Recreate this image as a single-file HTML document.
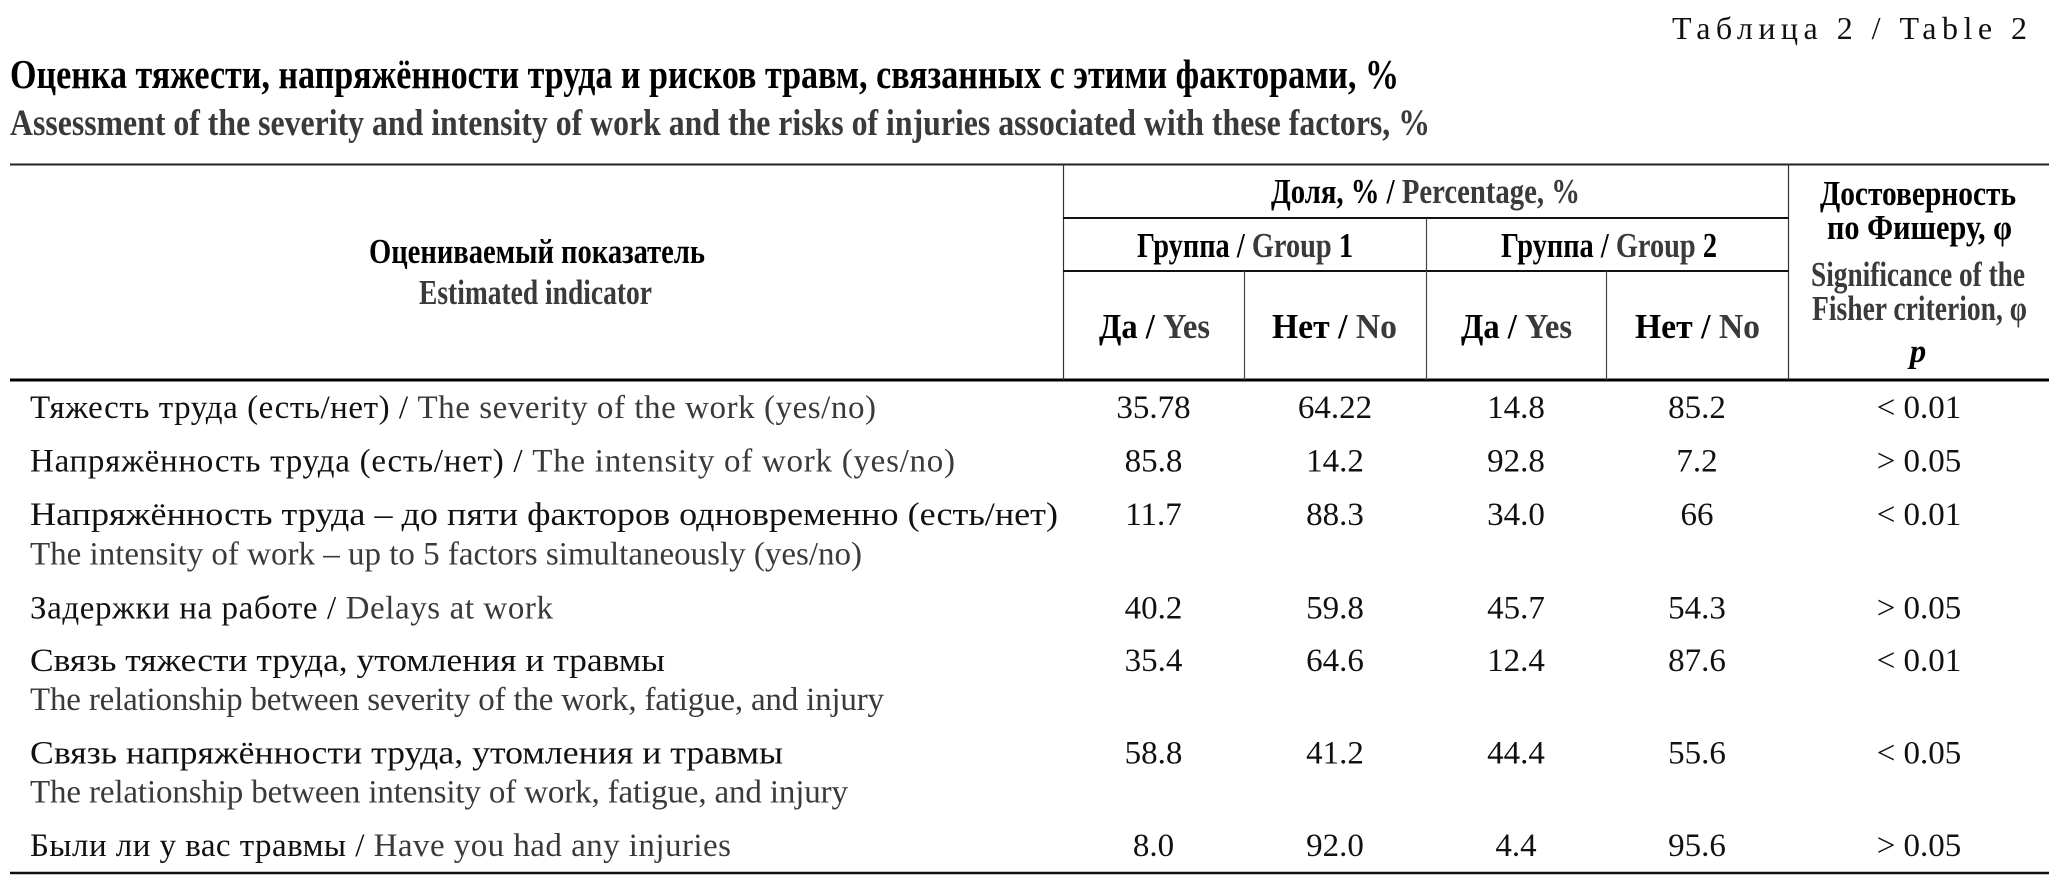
<!DOCTYPE html>
<html>
<head>
<meta charset="utf-8">
<style>
  html, body { margin:0; padding:0; background:#fff; }
  svg { display:block; }
  text { font-family: "Liberation Serif", "Noto Serif CJK SC", serif; }
  .g { fill:#3a3a3a; }
  .b { font-weight:bold; }
</style>
</head>
<body>
<svg width="2059" height="882" viewBox="0 0 2059 882" xmlns="http://www.w3.org/2000/svg">
  <rect width="2059" height="882" fill="#fff"/>

  <!-- Table number -->
  <text x="1672" y="39" font-size="32" fill="#111" textLength="355" lengthAdjust="spacing">Таблица 2 / Table 2</text>

  <!-- Titles -->
  <text x="10" y="88" font-size="41" class="b" fill="#000" textLength="1389" lengthAdjust="spacingAndGlyphs">Оценка тяжести, напряжённости труда и рисков травм, связанных с этими факторами, %</text>
  <text x="10" y="135" font-size="37" class="b g" textLength="1420" lengthAdjust="spacingAndGlyphs">Assessment of the severity and intensity of work and the risks of injuries associated with these factors, %</text>

  <!-- Rules -->
  <line x1="10" y1="164.5" x2="2049" y2="164.5" stroke="#222" stroke-width="2"/>
  <line x1="10" y1="380" x2="2049" y2="380" stroke="#000" stroke-width="3"/>
  <line x1="10" y1="873" x2="2049" y2="873" stroke="#111" stroke-width="2.5"/>

  <!-- Header grid -->
  <line x1="1063.5" y1="164" x2="1063.5" y2="380" stroke="#333" stroke-width="1.2"/>
  <line x1="1788.5" y1="164" x2="1788.5" y2="380" stroke="#333" stroke-width="1.2"/>
  <line x1="1063" y1="218" x2="1789" y2="218" stroke="#111" stroke-width="2"/>
  <line x1="1063" y1="271" x2="1789" y2="271" stroke="#111" stroke-width="2"/>
  <line x1="1426.5" y1="218" x2="1426.5" y2="380" stroke="#444" stroke-width="1.2"/>
  <line x1="1244.5" y1="271" x2="1244.5" y2="380" stroke="#444" stroke-width="1.2"/>
  <line x1="1606.5" y1="271" x2="1606.5" y2="380" stroke="#444" stroke-width="1.2"/>

  <!-- Header text -->
  <text x="369" y="263" font-size="35" class="b" fill="#000" textLength="336" lengthAdjust="spacingAndGlyphs">Оцениваемый показатель</text>
  <text x="419" y="304" font-size="35" class="b g" textLength="233" lengthAdjust="spacingAndGlyphs">Estimated indicator</text>

  <text x="1271" y="203" font-size="35" class="b" fill="#000" textLength="309" lengthAdjust="spacingAndGlyphs">Доля, % / <tspan class="g">Percentage, %</tspan></text>

  <text x="1137" y="257" font-size="35" class="b" fill="#000" textLength="216" lengthAdjust="spacingAndGlyphs">Группа / <tspan class="g">Group </tspan>1</text>
  <text x="1501" y="257" font-size="35" class="b" fill="#000" textLength="216" lengthAdjust="spacingAndGlyphs">Группа / <tspan class="g">Group </tspan>2</text>

  <text x="1099" y="338" font-size="35" class="b" fill="#000" textLength="111" lengthAdjust="spacingAndGlyphs">Да / <tspan class="g">Yes</tspan></text>
  <text x="1272" y="338" font-size="35" class="b" fill="#000" textLength="125" lengthAdjust="spacingAndGlyphs">Нет / <tspan class="g">No</tspan></text>
  <text x="1461" y="338" font-size="35" class="b" fill="#000" textLength="111" lengthAdjust="spacingAndGlyphs">Да / <tspan class="g">Yes</tspan></text>
  <text x="1635" y="338" font-size="35" class="b" fill="#000" textLength="125" lengthAdjust="spacingAndGlyphs">Нет / <tspan class="g">No</tspan></text>

  <text x="1820" y="205" font-size="35" class="b" fill="#000" textLength="196" lengthAdjust="spacingAndGlyphs">Достоверность</text>
  <text x="1827" y="239" font-size="35" class="b" fill="#000" textLength="185" lengthAdjust="spacingAndGlyphs">по Фишеру, φ</text>
  <text x="1811" y="286" font-size="35" class="b g" textLength="214" lengthAdjust="spacingAndGlyphs">Significance of the</text>
  <text x="1812" y="320" font-size="35" class="b g" textLength="215" lengthAdjust="spacingAndGlyphs">Fisher criterion, φ</text>
  <text x="1918" y="362" font-size="33" font-weight="bold" font-style="italic" fill="#000" text-anchor="middle">p</text>

  <!-- Data rows: indicator column -->
  <g font-size="33" fill="#111">
    <text x="30" y="418" textLength="846">Тяжесть труда (есть/нет) / <tspan class="g">The severity of the work (yes/no)</tspan></text>
    <text x="30" y="471.5" textLength="925">Напряжённость труда (есть/нет) / <tspan class="g">The intensity of work (yes/no)</tspan></text>
    <text x="30" y="525" textLength="1028" lengthAdjust="spacingAndGlyphs">Напряжённость труда – до пяти факторов одновременно (есть/нет)</text>
    <text x="30" y="564.5" class="g" textLength="832">The intensity of work – up to 5 factors simultaneously (yes/no)</text>
    <text x="30" y="618.5" textLength="523">Задержки на работе / <tspan class="g">Delays at work</tspan></text>
    <text x="30" y="671" textLength="635" lengthAdjust="spacingAndGlyphs">Связь тяжести труда, утомления и травмы</text>
    <text x="30" y="710" class="g" textLength="854">The relationship between severity of the work, fatigue, and injury</text>
    <text x="30" y="763.5" textLength="753" lengthAdjust="spacingAndGlyphs">Связь напряжённости труда, утомления и травмы</text>
    <text x="30" y="802.5" class="g" textLength="818">The relationship between intensity of work, fatigue, and injury</text>
    <text x="30" y="856" textLength="701">Были ли у вас травмы / <tspan class="g">Have you had any injuries</tspan></text>
  </g>

  <!-- Data values -->
  <g font-size="33" fill="#111" text-anchor="middle">
    <text x="1153.5" y="418">35.78</text><text x="1335" y="418">64.22</text><text x="1516" y="418">14.8</text><text x="1697" y="418">85.2</text><text x="1919" y="418">&lt; 0.01</text>
    <text x="1153.5" y="471.5">85.8</text><text x="1335" y="471.5">14.2</text><text x="1516" y="471.5">92.8</text><text x="1697" y="471.5">7.2</text><text x="1919" y="471.5">&gt; 0.05</text>
    <text x="1153.5" y="525">11.7</text><text x="1335" y="525">88.3</text><text x="1516" y="525">34.0</text><text x="1697" y="525">66</text><text x="1919" y="525">&lt; 0.01</text>
    <text x="1153.5" y="618.5">40.2</text><text x="1335" y="618.5">59.8</text><text x="1516" y="618.5">45.7</text><text x="1697" y="618.5">54.3</text><text x="1919" y="618.5">&gt; 0.05</text>
    <text x="1153.5" y="671">35.4</text><text x="1335" y="671">64.6</text><text x="1516" y="671">12.4</text><text x="1697" y="671">87.6</text><text x="1919" y="671">&lt; 0.01</text>
    <text x="1153.5" y="763.5">58.8</text><text x="1335" y="763.5">41.2</text><text x="1516" y="763.5">44.4</text><text x="1697" y="763.5">55.6</text><text x="1919" y="763.5">&lt; 0.05</text>
    <text x="1153.5" y="856">8.0</text><text x="1335" y="856">92.0</text><text x="1516" y="856">4.4</text><text x="1697" y="856">95.6</text><text x="1919" y="856">&gt; 0.05</text>
  </g>
</svg>
</body>
</html>
